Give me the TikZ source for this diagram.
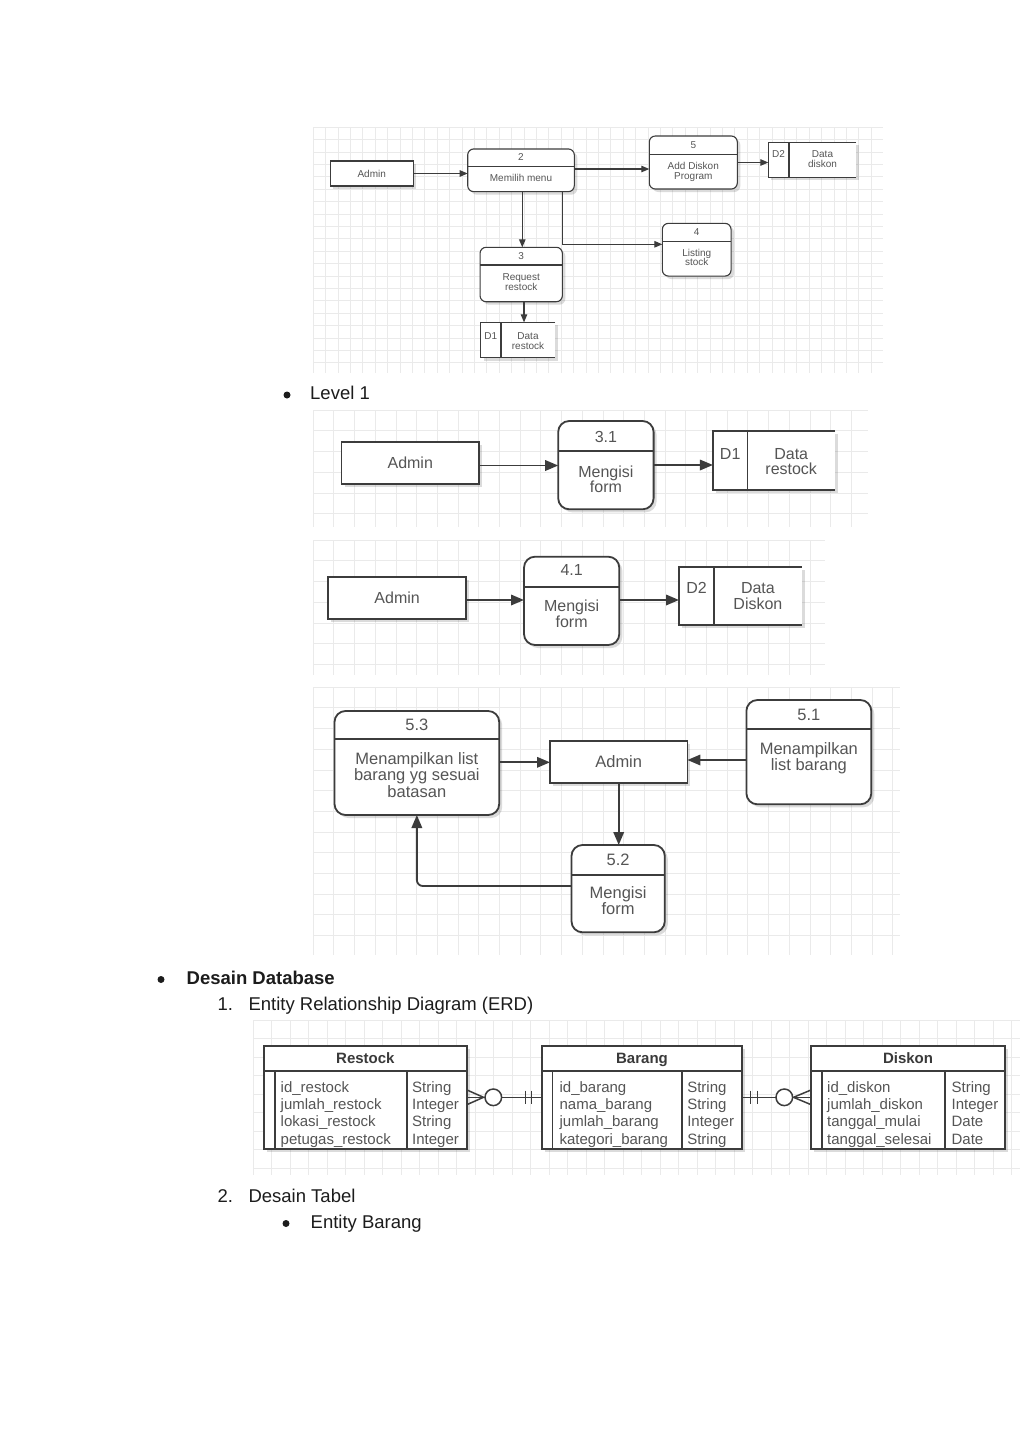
\documentclass[tikz,border=0pt]{standalone}
\usepackage{fontspec}
\setmainfont{Liberation Sans}
\usetikzlibrary{arrows.meta,shadows}
\definecolor{gridc}{HTML}{EAEAEA}
\definecolor{linec}{HTML}{3C3C3C}
\definecolor{txtc}{HTML}{555555}
\definecolor{hdrc}{HTML}{3A3A3A}
\definecolor{doct}{HTML}{1C1C1C}
\tikzset{
  gridbg/.style={draw=gridc, line width=0.6pt},
  shad/.style={drop shadow={shadow xshift=3pt, shadow yshift=-3pt, opacity=0.2, fill=black!70}},
  sent/.style={rectangle, draw=linec, line width=1.1pt, fill=white, inner sep=0pt, outer sep=0pt, shad},
  sproc/.style={sent, rounded corners=6pt},
  store/.style={rectangle, fill=white, inner sep=0pt, outer sep=0pt, shad},
  bent/.style={rectangle, draw=linec, line width=1.8pt, fill=white, inner sep=0pt, outer sep=0pt, shad},
  bproc/.style={bent, rounded corners=11pt},
  sline/.style={draw=linec, line width=1.1pt},
  bline/.style={draw=linec, line width=1.8pt},
  sarr/.style={draw=linec, line width=1.1pt, -{Triangle[length=8pt,width=6.5pt]}},
  barr/.style={draw=linec, line width=1.8pt, -{Triangle[length=13pt,width=10.5pt]}},
  ts/.style={text=txtc, inner sep=0pt, font=\fontsize{10}{10}\selectfont, text height=7.2pt, text depth=0pt},
  tb/.style={text=txtc, inner sep=0pt, font=\fontsize{16}{16}\selectfont, text height=11.5pt, text depth=0pt},
  tc/.style={text=txtc, inner sep=0pt, font=\fontsize{16.5}{16.5}\selectfont, text height=11.8pt, text depth=0pt},
  te/.style={text=txtc, inner sep=0pt, font=\fontsize{15}{15}\selectfont, text height=10.8pt, text depth=0pt, anchor=west},
  teh/.style={text=hdrc, inner sep=0pt, font={\bfseries\fontsize{15}{15}\selectfont}, text height=10.8pt, text depth=0pt},
  doc/.style={text=doct, inner sep=0pt, font=\fontsize{18.5}{18.5}\selectfont, anchor=base west},
  docb/.style={doc, font={\bfseries\fontsize{18.5}{18.5}\selectfont}},
  bul/.style={circle, fill=doct, inner sep=0pt, minimum size=7pt},
  tbl/.style={rectangle, draw=linec, line width=1.8pt, fill=white, inner sep=0pt, outer sep=0pt, shad},
  rel/.style={draw=linec, line width=1.5pt},
  relc/.style={circle, draw=linec, line width=1.5pt, fill=white, inner sep=0pt, minimum size=16.6pt},
}
\newcommand\gridpanel[5]{% x0 y0 x1 y1 step
  \pgfmathsetmacro\gxa{#1+#5}\pgfmathsetmacro\gya{#2+#5}%
  \foreach \gx in {#1,\gxa,...,#3} \draw[gridbg] (\gx,#2) -- (\gx,#4);
  \foreach \gy in {#2,\gya,...,#4} \draw[gridbg] (#1,\gy) -- (#3,\gy);
}
\begin{document}
\begin{tikzpicture}[x=1pt,y=-1pt]
\path[use as bounding box, fill=white] (0,0) rectangle (1024,1449);

% ---------------- Panel 1 : context ----------------
\gridpanel{313}{127}{883}{373}{12.4}
\node[sent, ts, minimum width=83pt, minimum height=25pt] (adm1) at (371.7,173.5) {Admin};
\node[sproc, minimum width=106.6pt, minimum height=42.7pt] (p2) at (521,170.3) {};
\draw[sline] (p2.west |- 0,166.7) -- (p2.east |- 0,166.7);
\node[ts] (p2a) at (521,156.7) {2};
\node[ts] (p2b) at (521,178) {Memilih menu};

\node[sproc, minimum width=88pt, minimum height=53pt] (p5) at (693.3,162.5) {};
\draw[sline] (p5.west |- 0,154.3) -- (p5.east |- 0,154.3);
\node[ts] (p5a) at (693.3,145) {5};
\node[ts] (p5b) at (693.3,165.7) {Add Diskon};
\node[ts] (p5c) at (693.3,175.7) {Program};

\node[store, minimum width=87.7pt, minimum height=35pt] (d2) at (812.2,159.8) {};
\draw[sline] (d2.north east) -- (d2.north west) -- (d2.south west) -- (d2.south east);
\draw[sline] (789,142.3) -- (789,177.3);
\node[ts] (d2a) at (778.6,154.3) {D2};
\node[ts] (d2b) at (822.5,154.3) {Data};
\node[ts] (d2c) at (822.5,164.3) {diskon};

\node[sproc, minimum width=68.7pt, minimum height=52.7pt] (p4) at (696.7,249.7) {};
\draw[sline] (p4.west |- 0,241.7) -- (p4.east |- 0,241.7);
\node[ts] (p4a) at (696.7,231.5) {4};
\node[ts] (p4b) at (696.7,252.7) {Listing};
\node[ts] (p4c) at (696.7,262.3) {stock};

\node[sproc, minimum width=82.3pt, minimum height=54.4pt] (p3) at (521.2,274.5) {};
\draw[sline] (p3.west |- 0,265) -- (p3.east |- 0,265);
\node[ts] (p3a) at (521.2,256) {3};
\node[ts] (p3b) at (521.2,276.7) {Request};
\node[ts] (p3c) at (521.2,287) {restock};

\node[store, minimum width=74.3pt, minimum height=35.4pt] (d1) at (517.9,340) {};
\draw[sline] (d1.north east) -- (d1.north west) -- (d1.south west) -- (d1.south east);
\draw[sline] (501,322.3) -- (501,357.7);
\node[ts] (d1a) at (490.8,335.7) {D1};
\node[ts] (d1b) at (528,335.7) {Data};
\node[ts] (d1c) at (528,345.5) {restock};

\draw[sarr] (adm1.east) -- (adm1.east -| p2.west);
\draw[sarr] (p2.east |- 0,169) -- (p5.west |- 0,169);
\draw[sarr] (p5.east) -- (p5.east -| d2.west);
\draw[sarr] (p2.south -| 522.3,0) -- (p3.north -| 522.3,0);
\draw[sarr] (p2.south -| 562.3,0) |- (p4.west |- 0,244.3);
\draw[sarr] (p3.south -| 524,0) -- (d1.north -| 524,0);

% ---------------- Level 1 ----------------
\node[bul] (b1) at (287,395) {};
\node[doc] (lv1) at (310,399.6) {Level 1};

% ---------------- Panel 2 ----------------
\gridpanel{313}{410}{868}{527}{20.7}
\node[bent, tb, minimum width=137.5pt, minimum height=42.3pt] (adm2) at (410.25,462.85) {Admin};
\node[bproc, minimum width=95.4pt, minimum height=88.3pt] (p31) at (605.9,465.15) {};
\draw[bline] (p31.west |- 0,451) -- (p31.east |- 0,451);
\node[tb] (p31a) at (605.9,436.7) {3.1};
\node[tb] (p31b) at (605.9,472) {Mengisi};
\node[tb] (p31c) at (605.9,486.6) {form};
\node[store, minimum width=122.1pt, minimum height=59pt] (d1n) at (773.95,460.5) {};
\draw[bline] (d1n.north east) -- (d1n.north west) -- (d1n.south west) -- (d1n.south east);
\draw[bline] (747.5,431) -- (747.5,490);
\node[tb] (d1na) at (730.2,453.5) {D1};
\node[tb] (d1nb) at (791.2,453.5) {Data};
\node[tb] (d1nc) at (791.2,468.5) {restock};
\draw[barr] (adm2.east |- 0,465.5) -- (p31.west |- 0,465.5);
\draw[barr] (p31.east |- 0,465) -- (d1n.west |- 0,465);

% ---------------- Panel 3 ----------------
\gridpanel{313}{540}{825}{675}{20.7}
\node[bent, tb, minimum width=137.7pt, minimum height=41.7pt] (adm3) at (397.15,598.15) {Admin};
\node[bproc, minimum width=95.3pt, minimum height=88.3pt] (p41) at (571.65,600.85) {};
\draw[bline] (p41.west |- 0,586.7) -- (p41.east |- 0,586.7);
\node[tb] (p41a) at (571.65,570) {4.1};
\node[tb] (p41b) at (571.65,606) {Mengisi};
\node[tb] (p41c) at (571.65,621.5) {form};
\node[store, minimum width=122.7pt, minimum height=57.7pt] (d2n) at (740.35,596.15) {};
\draw[bline] (d2n.north east) -- (d2n.north west) -- (d2n.south west) -- (d2n.south east);
\draw[bline] (714,567.3) -- (714,625);
\node[tb] (d2na) at (696.5,587.5) {D2};
\node[tb] (d2nb) at (757.9,587.5) {Data};
\node[tb] (d2nc) at (757.9,604) {Diskon};
\draw[barr] (adm3.east |- 0,600) -- (p41.west |- 0,600);
\draw[barr] (p41.east |- 0,600) -- (d2n.west |- 0,600);

% ---------------- Panel 4 ----------------
\gridpanel{313}{687}{900}{955}{20.7}
\node[bproc, minimum width=164.7pt, minimum height=104pt] (p53) at (416.85,763) {};
\draw[bline] (p53.west |- 0,739.3) -- (p53.east |- 0,739.3);
\node[tc] (p53a) at (416.85,724.3) {5.3};
\node[tc] (p53b) at (416.85,759) {Menampilkan list};
\node[tc] (p53c) at (416.85,775) {barang yg sesuai};
\node[tc] (p53d) at (416.85,792) {batasan};
\node[bent, tc, minimum width=137.4pt, minimum height=42pt] (adm4) at (618.7,761.7) {Admin};
\node[bproc, minimum width=124.9pt, minimum height=104.3pt] (p51) at (808.85,752.15) {};
\draw[bline] (p51.west |- 0,729.3) -- (p51.east |- 0,729.3);
\node[tc] (p51a) at (808.85,715) {5.1};
\node[tc] (p51b) at (808.85,749) {Menampilkan};
\node[tc] (p51c) at (808.85,765) {list barang};
\node[bproc, minimum width=93.3pt, minimum height=87.3pt] (p52) at (618.15,888.65) {};
\draw[bline] (p52.west |- 0,875) -- (p52.east |- 0,875);
\node[tc] (p52a) at (618.15,859.3) {5.2};
\node[tc] (p52b) at (618.15,893) {Mengisi};
\node[tc] (p52c) at (618.15,909) {form};
\draw[barr] (p53.east |- 0,762.3) -- (adm4.west |- 0,762.3);
\draw[barr] (p51.west |- 0,760) -- (adm4.east |- 0,760);
\draw[barr] (adm4.south) -- (adm4.south |- p52.north);
\draw[barr, rounded corners=6pt] (p52.west |- 0,886) -| (p53.south);

% ---------------- Desain Database ----------------
\node[bul] (b2) at (161,979.5) {};
\node[docb] (dd) at (186.5,984) {Desain Database};
\node[doc] (n1) at (217.5,1010) {1.};
\node[doc] (erd) at (248.3,1010) {Entity Relationship Diagram (ERD)};

% ---------------- ERD ----------------
\gridpanel{253}{1020}{1020}{1175}{18.5}
% Restock
\node[tbl, minimum width=203.2pt, minimum height=103.6pt] (restock) at (365.4,1097.5) {};
\draw[bline] (restock.west |- 0,1070.7) -- (restock.east |- 0,1070.7);
\draw[bline] (274.6,1070.7) -- (274.6,1149.3);
\draw[bline] (407.2,1070.7) -- (407.2,1149.3);
\node[teh] (rh) at (365.4,1058.2) {Restock};
\node[te] (r1) at (280.5,1086.7) {id\_restock};
\node[te] (r2) at (280.5,1104.1) {jumlah\_restock};
\node[te] (r3) at (280.5,1121.5) {lokasi\_restock};
\node[te] (r4) at (280.5,1138.9) {petugas\_restock};
\node[te] (rt1) at (412,1086.7) {String};
\node[te] (rt2) at (412,1104.1) {Integer};
\node[te] (rt3) at (412,1121.5) {String};
\node[te] (rt4) at (412,1138.9) {Integer};
% Barang
\node[tbl, minimum width=200pt, minimum height=103.6pt] (barang) at (642,1097.5) {};
\draw[bline] (barang.west |- 0,1070.7) -- (barang.east |- 0,1070.7);
\draw[bline] (552.5,1070.7) -- (552.5,1149.3);
\draw[bline] (682.2,1070.7) -- (682.2,1149.3);
\node[teh] (bh) at (642,1058.2) {Barang};
\node[te] (g1) at (559.4,1086.7) {id\_barang};
\node[te] (g2) at (559.4,1104.1) {nama\_barang};
\node[te] (g3) at (559.4,1121.5) {jumlah\_barang};
\node[te] (g4) at (559.4,1138.9) {kategori\_barang};
\node[te] (gt1) at (687.1,1086.7) {String};
\node[te] (gt2) at (687.1,1104.1) {String};
\node[te] (gt3) at (687.1,1121.5) {Integer};
\node[te] (gt4) at (687.1,1138.9) {String};
% Diskon
\node[tbl, minimum width=194.1pt, minimum height=103.6pt] (diskon) at (908,1097.5) {};
\draw[bline] (diskon.west |- 0,1070.7) -- (diskon.east |- 0,1070.7);
\draw[bline] (822.2,1070.7) -- (822.2,1149.3);
\draw[bline] (945,1070.7) -- (945,1149.3);
\node[teh] (kh) at (908,1058.2) {Diskon};
\node[te] (k1) at (827,1086.7) {id\_diskon};
\node[te] (k2) at (827,1104.1) {jumlah\_diskon};
\node[te] (k3) at (827,1121.5) {tanggal\_mulai};
\node[te] (k4) at (827,1138.9) {tanggal\_selesai};
\node[te] (kt1) at (951.4,1086.7) {String};
\node[te] (kt2) at (951.4,1104.1) {Integer};
\node[te] (kt3) at (951.4,1121.5) {Date};
\node[te] (kt4) at (951.4,1138.9) {Date};
% Relationship Restock - Barang
\draw[rel] (restock.east |- 0,1097.3) -- (barang.west |- 0,1097.3);
\draw[rel] (restock.east |- 0,1090) -- (483.5,1097.3) -- (restock.east |- 0,1104.6);
\node[relc] (c1) at (493.3,1097.3) {};
\draw[rel] (525.7,1090.7) -- (525.7,1104);
\draw[rel] (531.7,1090.7) -- (531.7,1104);
% Relationship Barang - Diskon
\draw[rel] (barang.east |- 0,1097.3) -- (diskon.west |- 0,1097.3);
\draw[rel] (diskon.west |- 0,1090) -- (793.5,1097.3) -- (diskon.west |- 0,1104.6);
\node[relc] (c2) at (784.3,1097.3) {};
\draw[rel] (750.7,1090.7) -- (750.7,1104);
\draw[rel] (757.3,1090.7) -- (757.3,1104);

% ---------------- Desain Tabel ----------------
\node[doc] (n2) at (217.5,1202.5) {2.};
\node[doc] (dt) at (248.3,1202.5) {Desain Tabel};
\node[bul] (b3) at (286,1223.5) {};
\node[doc] (eb) at (310.5,1228.3) {Entity Barang};
\end{tikzpicture}
\end{document}
